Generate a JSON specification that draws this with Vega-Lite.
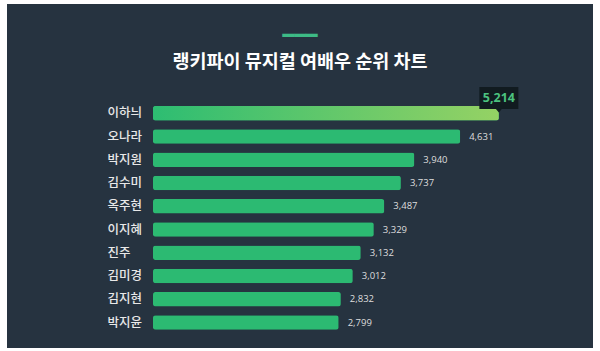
{
  "$schema": "https://vega.github.io/schema/vega-lite/v6.json",
  "autosize": {"type": "none"},
  "padding": {"left": 7, "top": 4, "right": 7, "bottom": 3},
  "width": 586,
  "height": 344,
  "background": "white",
  "config": {
    "view": {"fill": "#263340", "stroke": null},
    "font": "Noto Sans CJK KR"
  },
  "title": {
    "text": "━━━",
    "font": "DejaVu Sans Mono",
    "fontSize": 19.5,
    "color": "#3dbb86",
    "subtitle": "랭키파이 뮤지컬 여배우 순위 차트",
    "subtitleFont": "Noto Sans CJK KR",
    "subtitleFontSize": 18.5,
    "subtitleFontWeight": "bold",
    "subtitleColor": "#ffffff",
    "subtitlePadding": 6,
    "anchor": "middle",
    "frame": "group",
    "offset": -68
  },
  "data": {
    "values": [
      {"rank": 1, "name": "이하늬", "value": 5214},
      {"rank": 2, "name": "오나라", "value": 4631},
      {"rank": 3, "name": "박지원", "value": 3940},
      {"rank": 4, "name": "김수미", "value": 3737},
      {"rank": 5, "name": "옥주현", "value": 3487},
      {"rank": 6, "name": "이지혜", "value": 3329},
      {"rank": 7, "name": "진주", "value": 3132},
      {"rank": 8, "name": "김미경", "value": 3012},
      {"rank": 9, "name": "김지현", "value": 2832},
      {"rank": 10, "name": "박지윤", "value": 2799}
    ]
  },
  "encoding": {
    "y": {
      "field": "name",
      "type": "nominal",
      "sort": ["이하늬", "오나라", "박지원", "김수미", "옥주현", "이지혜", "진주", "김미경", "김지현", "박지윤"],
      "scale": {"range": [97.7, 330.2], "paddingInner": 0.376, "paddingOuter": 0.188},
      "axis": {
        "title": null,
        "ticks": false,
        "domain": false,
        "offset": -146,
        "labelAlign": "left",
        "labelPadding": 46,
        "labelFontSize": 12.5,
        "labelFontWeight": 500,
        "labelColor": "#e8e8e8",
        "labelFont": "Noto Sans CJK KR"
      }
    },
    "x": {
      "field": "value",
      "type": "quantitative",
      "scale": {"domain": [0, 6000], "range": [146, 544], "nice": false},
      "axis": null
    }
  },
  "layer": [
    {
      "mark": {"type": "bar", "color": "#2cba72", "cornerRadius": 2.5}
    },
    {
      "transform": [{"filter": "datum.rank == 1"}],
      "mark": {
        "type": "bar",
        "cornerRadius": 2.5,
        "color": {
          "gradient": "linear",
          "x1": 0, "y1": 0, "x2": 1, "y2": 0,
          "stops": [
            {"offset": 0, "color": "#2dbd72"},
            {"offset": 1, "color": "#95d264"}
          ]
        }
      }
    },
    {
      "transform": [{"filter": "datum.rank != 1"}],
      "mark": {"type": "text", "align": "left", "baseline": "middle", "dx": 9, "fontSize": 9.5, "color": "#dedede", "font": "Open Sans"},
      "encoding": {"text": {"field": "value", "type": "quantitative", "format": ",d"}}
    },
    {
      "transform": [{"filter": "datum.rank == 1"}],
      "mark": {
        "type": "point",
        "shape": "M-1,-0.56L1,-0.56L1,0.56L0.15,0.56L0,0.74L-0.15,0.56L-1,0.56Z",
        "size": 1521,
        "filled": true,
        "opacity": 1,
        "color": "#111b20",
        "yOffset": -15.3
      }
    },
    {
      "transform": [{"filter": "datum.rank == 1"}],
      "mark": {"type": "text", "align": "center", "baseline": "middle", "fontSize": 12.5, "fontWeight": "bold", "color": "#4cc27f", "font": "Open Sans", "yOffset": -15.3},
      "encoding": {"text": {"field": "value", "type": "quantitative", "format": ",d"}}
    }
  ]
}
